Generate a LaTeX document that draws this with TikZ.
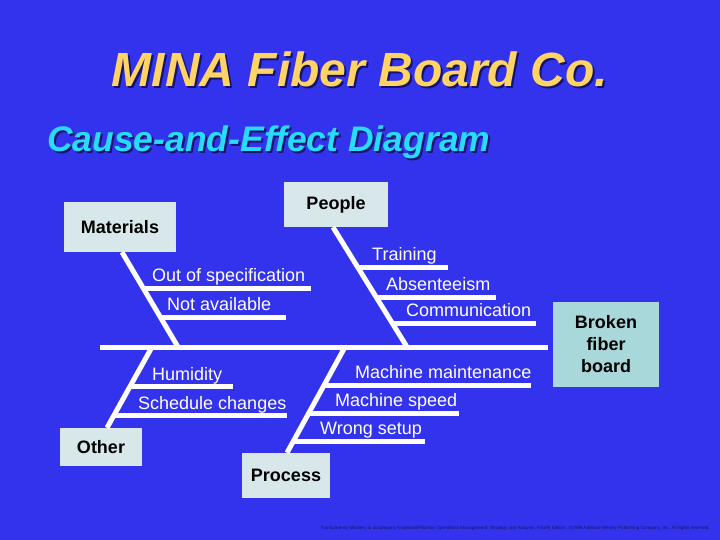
\documentclass[tikz,border=0pt]{standalone}
\usepackage{fontspec}
\setmainfont{Liberation Sans}
\usetikzlibrary{calc}
\definecolor{bg}{RGB}{51,51,238}
\definecolor{ttl}{RGB}{255,212,100}
\definecolor{subt}{RGB}{40,220,255}
\definecolor{shd}{RGB}{20,20,110}
\definecolor{boxa}{RGB}{216,232,234}
\definecolor{boxb}{RGB}{168,216,218}
\definecolor{foot}{RGB}{20,20,90}
\newcommand{\shadowtext}[2]{\rlap{\hspace{2pt}\raisebox{-2pt}{\color{shd}#2}}{\color{#1}#2}}
\begin{document}
\begin{tikzpicture}[x=1pt,y=-1pt,
  bone/.style={draw=white,line width=5pt},
  cat/.style={fill=boxa,font=\fontsize{18}{22}\selectfont\bfseries,text=black,inner sep=0pt,align=center},
  lbl/.style={text=white,font=\fontsize{18}{22}\selectfont,anchor=base west,inner sep=0pt},
  ttlfont/.style={font=\fontsize{48}{56}\selectfont\bfseries\itshape,anchor=base,inner sep=0pt},
  subfont/.style={font=\fontsize{35.5}{42}\selectfont\bfseries\itshape,anchor=base west,inner sep=0pt}]
\fill[bg] (0,0) rectangle (720,540);
\useasboundingbox (0,0) rectangle (720,540);

% titles
\node[ttlfont] (ttl) at (360,87) {\shadowtext{ttl}{MINA Fiber Board Co.}};
\node[subfont] (sub) at (47,152) {\shadowtext{subt}{Cause-and-Effect Diagram}};

% category boxes
\node[cat,minimum width=112pt,minimum height=50pt] (mat) at (120,227) {Materials};
\node[cat,minimum width=104pt,minimum height=45pt] (peo) at (336,204.5) {People};
\node[cat,minimum width=82pt,minimum height=38pt] (oth) at (101,447) {Other};
\node[cat,minimum width=88pt,minimum height=45pt] (proc) at (286,475.5) {Process};
\node[cat,fill=boxb,minimum width=106pt,minimum height=85pt] (eff) at (606,344.5) {Broken\\fiber\\board};

% spine
\coordinate (spL) at (100,347);
\coordinate (jM) at (178,347);
\coordinate (jP) at (407,347);
\coordinate (jO) at (152,347);
\coordinate (jR) at (345,347);
\draw[bone] (spL) -- ([xshift=-5pt]spL -| eff.west);

% bones
\coordinate (bM) at ([xshift=2pt]mat.south);
\coordinate (bP) at ([xshift=-3pt]peo.south);
\coordinate (bO) at ([xshift=6pt]oth.north);
\coordinate (bR) at ([xshift=1pt]proc.north);
\draw[bone] (bM) -- (jM);
\draw[bone] (bP) -- (jP);
\draw[bone] (jO) -- (bO);
\draw[bone] (jR) -- (bR);

% Materials causes
\draw[bone] ($(bM)!0.379!(jM)$) -- ++(168,0);
\draw[bone] ($(bM)!0.684!(jM)$) -- ++(126,0);
\node[lbl] (tm1) at (152,281.5) {Out of specification};
\node[lbl] (tm2) at (167,310.5) {Not available};

% People causes
\draw[bone] ($(bP)!0.333!(jP)$) -- ++(90,0);
\draw[bone] ($(bP)!0.583!(jP)$) -- ++(120,0);
\draw[bone] ($(bP)!0.8!(jP)$) -- ++(144,0);
\node[lbl] (tp1) at (372,260.5) {Training};
\node[lbl] (tp2) at (386,290.5) {Absenteeism};
\node[lbl] (tp3) at (406,316.5) {Communication};

% Other causes
\draw[bone] ($(jO)!0.494!(bO)$) -- ++(103,0);
\draw[bone] ($(jO)!0.852!(bO)$) -- ++(173,0);
\node[lbl] (to1) at (152,380.5) {Humidity};
\node[lbl] (to2) at (138,409.5) {Schedule changes};

% Process causes
\draw[bone] ($(jR)!0.362!(bR)$) -- ++(207,0);
\draw[bone] ($(jR)!0.629!(bR)$) -- ++(150.5,0);
\draw[bone] ($(jR)!0.895!(bR)$) -- ++(132,0);
\node[lbl] (tr1) at (355,378.5) {Machine maintenance};
\node[lbl] (tr2) at (335,406.5) {Machine speed};
\node[lbl] (tr3) at (320,434.5) {Wrong setup};

% footer
\node[text=foot,font=\fontsize{4.6}{5}\selectfont,anchor=base east,inner sep=0pt] (foot) at (710,529)
  {Transparency Masters to accompany Krajewski/Ritzman Operations Management: Strategy and Analysis, Fourth Edition. \textcopyright1996 Addison-Wesley Publishing Company, Inc. All rights reserved.};
\end{tikzpicture}
\end{document}
